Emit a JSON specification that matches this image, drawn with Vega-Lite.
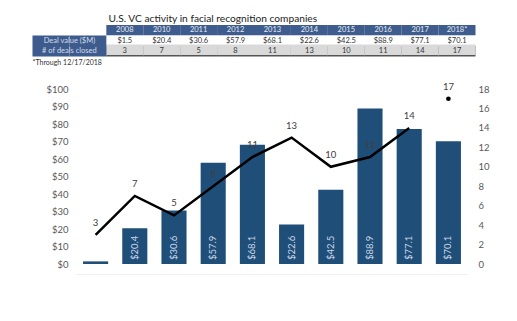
{
  "$schema": "https://vega.github.io/schema/vega-lite/v6.json",
  "padding": {"left": 32, "top": 13, "right": 5, "bottom": 5},
  "background": "white",
  "config": {"view": {"stroke": null}, "font": "Lato", "axis": {"labelOverlap": false, "labelBound": false}, "axisY": {"labelOverlap": false}},
  "datasets": {
    "vc": [
      {"year": "2008", "value": 1.5, "deals": 3},
      {"year": "2010", "value": 20.4, "deals": 7},
      {"year": "2011", "value": 30.6, "deals": 5},
      {"year": "2012", "value": 57.9, "deals": 8},
      {"year": "2013", "value": 68.1, "deals": 11},
      {"year": "2014", "value": 22.6, "deals": 13},
      {"year": "2015", "value": 42.5, "deals": 10},
      {"year": "2016", "value": 88.9, "deals": 11},
      {"year": "2017", "value": 77.1, "deals": 14},
      {"year": "2018*", "value": 70.1, "deals": 17}
    ],
    "rows": [
      {"row": "Deal value ($M)"},
      {"row": "# of deals closed"}
    ]
  },
  "spacing": 14,
  "vconcat": [
    {
      "width": 399.5,
      "height": 42,
      "title": {"text": "U.S. VC activity in facial recognition companies", "anchor": "start", "frame": "group", "dx": 32.5, "fontSize": 10.2, "fontWeight": "normal", "font": "Lato", "color": "#222222", "offset": 1},
      "data": {"name": "vc"},
      "encoding": {
        "x": {"scale": {"domain": ["L1", "L2", "2008", "2010", "2011", "2012", "2013", "2014", "2015", "2016", "2017", "2018*"], "range": [-43.5, 399.5], "paddingInner": 0, "paddingOuter": 0}, "axis": null, "type": "nominal"},
        "y": {"scale": {"domain": ["hdr", "Deal value ($M)", "# of deals closed", "note"], "paddingInner": 0, "paddingOuter": 0}, "axis": null, "type": "nominal"}
      },
      "layer": [
        {
          "mark": {"type": "rect", "color": "#3e5c8d"},
          "encoding": {"x": {"field": "year", "type": "nominal"}, "y": {"datum": "hdr", "type": "nominal"}}
        },
        {
          "mark": {"type": "text", "color": "#e6ecf4", "fontSize": 7.5},
          "encoding": {"x": {"field": "year", "type": "nominal"}, "y": {"datum": "hdr", "type": "nominal"}, "text": {"field": "year"}}
        },
        {
          "mark": {"type": "rect", "color": "#ffffff"},
          "encoding": {"x": {"field": "year", "type": "nominal"}, "y": {"datum": "Deal value ($M)", "type": "nominal"}}
        },
        {
          "mark": {"type": "rect", "color": "#555555"},
          "encoding": {"x": {"field": "year", "type": "nominal"}, "y": {"datum": "# of deals closed", "type": "nominal"}}
        },
        {
          "mark": {"type": "rect", "color": "#d9d9d9", "yOffset": -1.5},
          "encoding": {"x": {"field": "year", "type": "nominal"}, "y": {"datum": "# of deals closed", "type": "nominal"}}
        },
        {
          "mark": {"type": "text", "color": "#333333", "fontSize": 7.5},
          "encoding": {"x": {"field": "year", "type": "nominal"}, "y": {"datum": "Deal value ($M)", "type": "nominal"}, "text": {"field": "value", "format": "$.1f"}}
        },
        {
          "mark": {"type": "text", "color": "#333333", "fontSize": 7.5, "dy": -0.5},
          "encoding": {"x": {"field": "year", "type": "nominal"}, "y": {"datum": "# of deals closed", "type": "nominal"}, "text": {"field": "deals"}}
        },
        {
          "data": {"name": "rows"},
          "mark": {"type": "rect", "color": "#3d5b8c"},
          "encoding": {"x": {"datum": "L1", "type": "nominal"}, "y": {"field": "row", "type": "nominal"}}
        },
        {
          "data": {"name": "rows"},
          "mark": {"type": "rect", "color": "#3d5b8c"},
          "encoding": {"x": {"datum": "L2", "type": "nominal"}, "y": {"field": "row", "type": "nominal"}}
        },
        {
          "data": {"name": "rows"},
          "mark": {"type": "text", "color": "#d4ddeb", "fontSize": 7.5},
          "encoding": {"x": {"datum": "L2", "type": "nominal", "bandPosition": 0}, "y": {"field": "row", "type": "nominal"}, "text": {"field": "row"}}
        },
        {
          "data": {"values": [{"note": "*Through 12/17/2018"}]},
          "mark": {"type": "text", "color": "#333333", "fontSize": 7, "align": "left", "dy": 1},
          "encoding": {"x": {"datum": "L1", "type": "nominal", "bandPosition": 0}, "y": {"datum": "note", "type": "nominal"}, "text": {"field": "note"}}
        }
      ]
    },
    {
      "width": 392,
      "height": 175,
      "data": {"name": "vc"},
      "layer": [
        {
          "encoding": {
            "x": {"field": "year", "type": "nominal", "title": null, "sort": null,
              "scale": {"paddingInner": 0.36, "paddingOuter": 0.18},
              "axis": {"labels": false, "ticks": false, "domain": true, "domainColor": "#efefef", "offset": 10, "title": null}}
          },
          "layer": [
            {
              "mark": {"type": "bar", "color": "#1f4e79"},
              "encoding": {
                "y": {"field": "value", "type": "quantitative", "title": null,
                  "scale": {"domain": [0, 100], "nice": false},
                  "axis": {"values": [0, 10, 20, 30, 40, 50, 60, 70, 80, 90, 100], "format": "$.0f", "labelOverlap": false, "grid": false, "ticks": false, "domain": false, "labelColor": "#595959", "labelFontSize": 9.5, "labelPadding": 8, "title": null}}
              }
            },
            {
              "transform": [{"filter": "datum.year != '2008'"}],
              "mark": {"type": "text", "angle": 270, "align": "left", "baseline": "middle", "dx": 4, "color": "#c9d5e6", "fontSize": 9.5},
              "encoding": {
                "y": {"datum": 0, "type": "quantitative", "axis": {"values": [0, 10, 20, 30, 40, 50, 60, 70, 80, 90, 100], "format": "$.0f", "labelOverlap": false, "grid": false, "ticks": false, "domain": false, "labelColor": "#595959", "labelFontSize": 9.5, "labelPadding": 8, "title": null}},
                "text": {"field": "value", "format": "$.1f"}
              }
            }
          ]
        },
        {
          "encoding": {
            "x": {"field": "year", "type": "nominal", "sort": null}
          },
          "layer": [
            {
              "transform": [{"filter": "datum.year != '2018*'"}],
              "mark": {"type": "line", "color": "#000000", "strokeWidth": 2.5},
              "encoding": {
                "y": {"field": "deals", "type": "quantitative", "title": null,
                  "scale": {"domain": [0, 18], "nice": false},
                  "axis": {"orient": "right", "values": [0, 2, 4, 6, 8, 10, 12, 14, 16, 18], "labelOverlap": false, "grid": false, "ticks": false, "domain": false, "labelColor": "#595959", "labelFontSize": 9.5, "labelPadding": 10, "title": null}}
              }
            },
            {
              "transform": [{"filter": "datum.year == '2018*'"}],
              "mark": {"type": "point", "filled": true, "color": "#000000", "size": 22, "opacity": 1},
              "encoding": {"y": {"field": "deals", "type": "quantitative", "title": null,
                  "axis": {"orient": "right", "values": [0, 2, 4, 6, 8, 10, 12, 14, 16, 18], "labelOverlap": false, "grid": false, "ticks": false, "domain": false, "labelColor": "#595959", "labelFontSize": 9.5, "labelPadding": 10, "title": null}}}
            },
            {
              "mark": {"type": "text", "color": "#404040", "fontSize": 9.5, "dy": -12},
              "encoding": {
                "y": {"field": "deals", "type": "quantitative", "title": null,
                  "axis": {"orient": "right", "values": [0, 2, 4, 6, 8, 10, 12, 14, 16, 18], "labelOverlap": false, "grid": false, "ticks": false, "domain": false, "labelColor": "#595959", "labelFontSize": 9.5, "labelPadding": 10, "title": null}},
                "text": {"field": "deals"}
              }
            }
          ]
        }
      ],
      "resolve": {"scale": {"y": "independent"}}
    }
  ]
}
